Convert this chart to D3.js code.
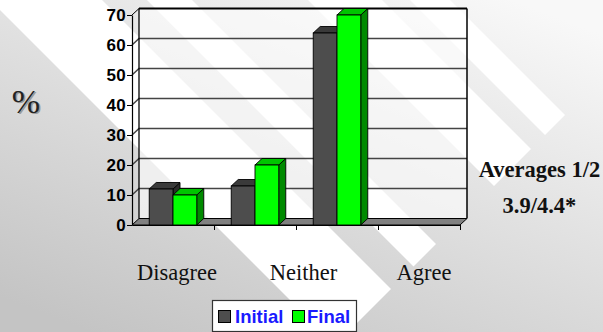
<!DOCTYPE html>
<html>
<head>
<meta charset="utf-8">
<script src="https://cdn.jsdelivr.net/npm/d3@7"></script>
<style>
  html, body { margin: 0; padding: 0; background: #e0e0e0; }
  svg { display: block; }
</style>
</head>
<body>
<svg id="chart" width="603" height="332"></svg>
<script>
// Response-scale positions along the floor and the two survey rounds
const bands = ["1", "2", "3", "4"];
const series = ["Initial", "Final"];
const initial = [12, 13, 64, 0];
const final = [10, 20, 70, 0];
const yTicks = [0, 10, 20, 30, 40, 50, 60, 70];
const scaleLabels = ["Disagree", "Neither", "Agree"];
const averagesTitle = "Averages 1/2";
const averagesValue = "3.9/4.4*";
// Decorative diagonal bands of the slide background, as (x - y) intervals
const stripeBands = [[-10, 102], [147, 192], [308, 382], [410, 450]];

const W = 603, H = 332;
const svg = d3.select("#chart");
const defs = svg.append("defs");

// Background gradient: light at the top right, darker toward the bottom left
const grad = defs.append("linearGradient").attr("id", "bg")
  .attr("x1", "0.85").attr("y1", "0").attr("x2", "0.15").attr("y2", "1");
grad.append("stop").attr("offset", "0").attr("stop-color", "#f8f8f8");
grad.append("stop").attr("offset", "1").attr("stop-color", "#c4c4c4");
svg.append("rect").attr("width", W).attr("height", H).attr("fill", "url(#bg)");

// White 45-degree bands, cut square at x + y = cut
const cut = 680;
svg.append("g").selectAll("polygon").data(stripeBands).join("polygon")
  .attr("fill", "#ffffff")
  .attr("points", ([a, b]) => [
    [b - 700, -700],
    [(b + cut) / 2, (cut - b) / 2],
    [(a + cut) / 2, (cut - a) / 2],
    [a - 700, -700]
  ].map(p => p.join(",")).join(" "));

// Scales
const x = d3.scaleBand().domain(bands).range([132, 460]);
const xEdge = d3.scaleLinear().domain([0, bands.length]).range([132, 460]);
const y = d3.scaleLinear().domain([0, 70]).range([225, 15]);
const depth = { dx: 7, dy: -6.5 };
const x1 = d3.scaleBand().domain(series)
  .range([x.bandwidth() * 0.21, x.bandwidth() * 0.79]);
const color = {
  Initial: { front: "#4d4d4d", top: "#3a3a3a", side: "#2a2a2a" },
  Final:   { front: "#00ff00", top: "#00c400", side: "#008a00" }
};

const pts = arr => arr.map(p => p.join(",")).join(" ");
const [x0, xN] = xEdge.range();
const yTop = y(70), yBase = y(0);

// Back wall (semi-transparent, lets the background bands through)
svg.append("rect")
  .attr("x", x0 + depth.dx).attr("y", yTop + depth.dy)
  .attr("width", xN - x0).attr("height", yBase - yTop)
  .attr("fill", "#ffffff").attr("fill-opacity", 0.6);

// Gridlines on back wall and side wall
const grid = svg.append("g");
yTicks.filter(v => v > 0 && v < 70).forEach(v => {
  grid.append("polyline")
    .attr("points", pts([[x0, y(v)], [x0 + depth.dx, y(v) + depth.dy], [xN + depth.dx, y(v) + depth.dy]]))
    .attr("fill", "none").attr("stroke", "#444").attr("stroke-width", 1.5);
});

// Wall outline
svg.append("polyline")
  .attr("points", pts([[x0 + depth.dx, yBase + depth.dy], [x0 + depth.dx, yTop + depth.dy]]))
  .attr("fill", "none").attr("stroke", "#000").attr("stroke-width", 1.3);
svg.append("polyline")
  .attr("points", pts([[x0 + depth.dx, yTop + depth.dy], [xN + depth.dx, yTop + depth.dy]]))
  .attr("fill", "none").attr("stroke", "#000").attr("stroke-width", 2);
svg.append("polyline")
  .attr("points", pts([[xN + depth.dx, yTop + depth.dy], [xN + depth.dx, yBase + depth.dy]]))
  .attr("fill", "none").attr("stroke", "#000").attr("stroke-width", 1.5);
svg.append("line")
  .attr("x1", x0).attr("y1", yTop).attr("x2", x0 + depth.dx).attr("y2", yTop + depth.dy)
  .attr("stroke", "#000").attr("stroke-width", 1);

// Floor
svg.append("polygon")
  .attr("points", pts([[x0, yBase], [xN, yBase], [xN + depth.dx, yBase + depth.dy], [x0 + depth.dx, yBase + depth.dy]]))
  .attr("fill", "#808080").attr("stroke", "#000").attr("stroke-width", 1);

// 3D bars
const barData = [];
bands.forEach((b, i) => {
  [["Initial", initial[i]], ["Final", final[i]]].forEach(([s, v]) => {
    if (v > 0) barData.push({ band: b, series: s, value: v });
  });
});
const bars = svg.append("g").selectAll("g").data(barData).join("g");
bars.each(function (d) {
  const g = d3.select(this);
  const bx = x(d.band) + x1(d.series);
  const bw = x1.bandwidth();
  const ty = y(d.value), by = y(0);
  const c = color[d.series];
  g.append("polygon")
    .attr("points", pts([[bx + bw, ty], [bx + bw + depth.dx, ty + depth.dy], [bx + bw + depth.dx, by + depth.dy], [bx + bw, by]]))
    .attr("fill", c.side).attr("stroke", "#000").attr("stroke-width", 0.9);
  g.append("polygon")
    .attr("points", pts([[bx, ty], [bx + depth.dx, ty + depth.dy], [bx + bw + depth.dx, ty + depth.dy], [bx + bw, ty]]))
    .attr("fill", c.top).attr("stroke", "#000").attr("stroke-width", 0.9);
  g.append("rect")
    .attr("x", bx).attr("y", ty).attr("width", bw).attr("height", by - ty)
    .attr("fill", c.front).attr("stroke", "#000").attr("stroke-width", 0.9);
});

// Y axis
const yAxis = svg.append("g").attr("transform", `translate(${x0},0)`)
  .call(d3.axisLeft(y).tickValues(yTicks).tickSize(5).tickSizeOuter(0).tickPadding(1));
yAxis.select(".domain").attr("stroke", "#000").attr("stroke-width", 1.2);
yAxis.selectAll(".tick line").attr("stroke", "#000");
yAxis.selectAll(".tick text")
  .attr("font-family", "'Liberation Sans', Arial, sans-serif")
  .attr("font-weight", "bold").attr("font-size", 17).attr("fill", "#000")
  .attr("letter-spacing", "0.3");

// X axis (category separators)
const xAxis = svg.append("g").attr("transform", `translate(0,${yBase})`)
  .call(d3.axisBottom(xEdge).tickValues(d3.range(1, bands.length + 1)).tickFormat("").tickSize(5).tickSizeOuter(0));
xAxis.select(".domain").attr("stroke", "#000").attr("stroke-width", 1.2);
xAxis.selectAll(".tick line").attr("stroke", "#000");

// Scale labels under the chart
const labelX = d3.scalePoint().domain(scaleLabels).range([177, 424]);
svg.append("g").selectAll("text").data(scaleLabels).join("text")
  .attr("x", d => labelX(d) + (d === "Neither" ? 3 : 0)).attr("y", 280)
  .attr("text-anchor", "middle")
  .attr("font-family", "'Liberation Serif', 'Times New Roman', serif")
  .attr("font-size", 22.5).attr("fill", "#111")
  .text(d => d);

// Percent sign with drop shadow
const pct = svg.append("g")
  .attr("font-family", "'Liberation Serif', 'Times New Roman', serif")
  .attr("font-size", 34).attr("text-anchor", "middle");
pct.append("text").attr("x", 27.5).attr("y", 114).attr("fill", "#9a9a9a").text("%");
pct.append("text").attr("x", 26).attr("y", 112.5).attr("fill", "#222").text("%");

// Averages note
const note = svg.append("g")
  .attr("font-family", "'Liberation Serif', 'Times New Roman', serif")
  .attr("font-weight", "bold").attr("font-size", 22.5).attr("fill", "#111")
  .attr("text-anchor", "middle");
note.append("text").attr("x", 539.5).attr("y", 177).text(averagesTitle);
note.append("text").attr("x", 539.5).attr("y", 213).text(averagesValue);

// Legend
const legend = svg.append("g");
legend.append("rect").attr("x", 212.5).attr("y", 300.5).attr("width", 144).attr("height", 31)
  .attr("fill", "#fff").attr("stroke", "#333").attr("stroke-width", 1.2);
const legendItems = [
  { s: series[0], sx: 218, tx: 235 },
  { s: series[1], sx: 292, tx: 307 }
];
legendItems.forEach(it => {
  legend.append("rect").attr("x", it.sx + 0.5).attr("y", 310.5).attr("width", 12).attr("height", 12)
    .attr("fill", color[it.s].front).attr("stroke", "#000").attr("stroke-width", 1);
  legend.append("text").attr("x", it.tx).attr("y", 323)
    .attr("font-family", "'Liberation Sans', Arial, sans-serif")
    .attr("font-weight", "bold").attr("font-size", 18.5).attr("fill", "#1a1aff")
    .text(it.s);
});
</script>
</body>
</html>
